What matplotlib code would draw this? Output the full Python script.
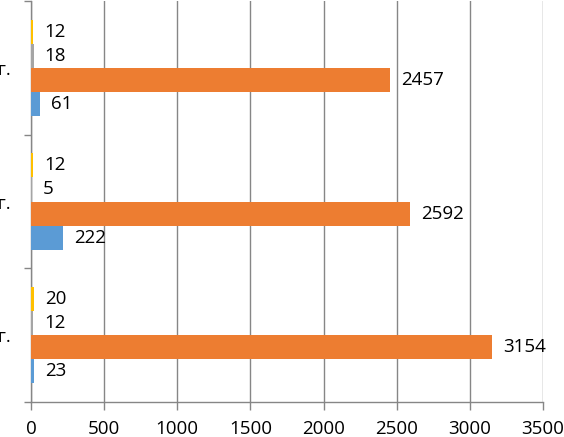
import matplotlib.pyplot as plt
import numpy as np

# categories from bottom to top (only the tail "г." is visible in the crop)
years = ["2015 г.", "2016 г.", "2017 г."]
blue_vals = [23, 222, 61]
orange_vals = [3154, 2592, 2457]
gray_vals = [12, 5, 18]
yellow_vals = [20, 12, 12]

series = [blue_vals, orange_vals, gray_vals, yellow_vals]
colors = ["#5B9BD5", "#ED7D31", "#A5A5A5", "#FFC000"]

plt.rcParams['font.family'] = ['Open Sans', 'DejaVu Sans']

fig = plt.figure(figsize=(5.64, 4.37), dpi=100)
ax = fig.add_axes([31 / 564, 1 - 402 / 437, 512 / 564, 401 / 437])

y = np.arange(len(years))
h = 0.18
for i, (vals, c) in enumerate(zip(series, colors)):
    pos = y + (i - 1.5) * h
    ax.barh(pos, vals, height=h, color=c, zorder=3)
    for p, v in zip(pos, vals):
        ax.annotate(str(v), (v, p), xytext=(8, 0), textcoords="offset points",
                    va="center", ha="left", fontsize=13.5, color="#000000")

ax.set_xlim(0, 3500)
ax.set_ylim(-0.5, 2.5)
ax.set_xticks(np.arange(0, 3501, 500))
ax.set_yticks(y)
ax.set_yticklabels(years)
ax.set_yticks([-0.5, 0.5, 1.5, 2.5], minor=True)
ax.tick_params(axis='y', which='major', length=0, pad=14.4, labelsize=13.5)
ax.tick_params(axis='y', which='minor', length=5, color="#868686", width=1)
ax.tick_params(axis='x', length=6, color="#868686", width=1, pad=7, labelsize=13.5)

ax.grid(axis='x', color="#868686", linewidth=1, zorder=0)
for s in ["top", "right"]:
    ax.spines[s].set_visible(False)
for s in ["left", "bottom"]:
    ax.spines[s].set_color("#868686")
    ax.spines[s].set_linewidth(1)

fig.savefig("out.png", dpi=100)
